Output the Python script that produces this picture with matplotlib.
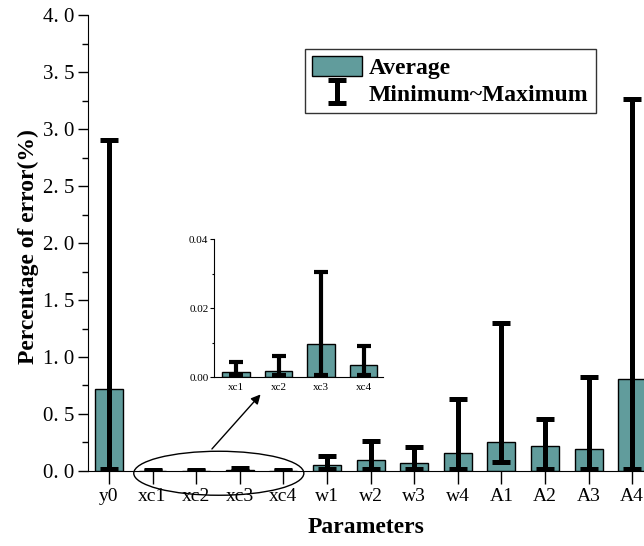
import numpy as np
import matplotlib.pyplot as plt
from matplotlib.patches import Ellipse

# values (percentage of error)
params = ['y0', 'xc1', 'xc2', 'xc3', 'xc4', 'w1', 'w2', 'w3', 'w4', 'A1', 'A2', 'A3', 'A4']
avg = [0.72, 0.0015, 0.0017, 0.0096, 0.0036, 0.05, 0.094, 0.07, 0.16, 0.25, 0.215, 0.195, 0.805]
vmin = [0.02, 0.0007, 0.0007, 0.0007, 0.0007, 0.02, 0.02, 0.02, 0.02, 0.08, 0.02, 0.02, 0.02]
vmax = [2.9, 0.0044, 0.0062, 0.0303, 0.0091, 0.13, 0.265, 0.21, 0.63, 1.295, 0.455, 0.826, 3.26]

inset_idx = [1, 2, 3, 4]

bar_color = '#619c9c'
serif = 'Liberation Serif'

fig = plt.figure(figsize=(6.44, 5.46), dpi=100)
ax = fig.add_axes([0.1366, 0.1374, 0.8634, 0.835])

x = np.arange(len(params))
avg_a = np.array(avg)
lo = avg_a - np.array(vmin)
hi = np.array(vmax) - avg_a

ax.bar(x, avg, width=0.64, color=bar_color, edgecolor='black', linewidth=1.0,
       label='Average', zorder=2)
eb = ax.errorbar(x, avg, yerr=[lo, hi], fmt='none', ecolor='black', elinewidth=3.6,
                 capsize=6.2, capthick=3.6, label='Minimum~Maximum', zorder=3)

ax.set_xlim(-0.48, 12.27)
ax.set_ylim(0, 4.0)
ax.set_xticks(x)
ax.set_xticklabels(params, fontfamily=serif, fontsize=14)
yt = np.arange(0, 4.01, 0.5)
ax.set_yticks(yt)
ax.set_yticklabels([f'{v:.1f}'.replace('.', '. ') for v in yt], fontfamily=serif, fontsize=15)
ax.set_yticks(np.arange(0, 4.01, 0.25), minor=True)
ax.tick_params(axis='x', direction='out', length=9, width=1, pad=3)
ax.tick_params(axis='y', which='major', direction='out', length=7, width=1, pad=3)
ax.tick_params(axis='y', which='minor', direction='out', length=4, width=1)
ax.spines['top'].set_visible(False)
ax.spines['right'].set_visible(False)

ax.set_xlabel('Parameters', fontfamily=serif, fontweight='bold', fontsize=17)
ax.xaxis.set_label_coords((366 - 88) / 556, -(517 - 471) / 456)
ax.set_ylabel('Percentage of error(%)', fontfamily=serif, fontweight='bold', fontsize=17)
ax.yaxis.set_label_coords(-(88 - 39) / 556, (471 - 247) / 456)

leg = ax.legend(loc='upper left', bbox_to_anchor=(0.474, 0.91), bbox_transform=fig.transFigure,
                borderaxespad=0, fancybox=False, framealpha=1, edgecolor='#333333',
                prop={'family': serif, 'weight': 'bold', 'size': 17},
                handlelength=2.1, handleheight=0.9, handletextpad=0.3, labelspacing=0.15,
                borderpad=0.3)
leg.get_frame().set_linewidth(1.0)

# ellipse + arrow pointing to the zoomed inset
ax.add_patch(Ellipse((2.52, -0.02), 3.9, 0.386, fill=False, edgecolor='black',
                     linewidth=1.0, clip_on=False, zorder=4))
ax.annotate('', xy=(3.52, 0.69), xytext=(2.32, 0.175),
            arrowprops=dict(arrowstyle='-|>', color='black', lw=1.0, mutation_scale=14))

# inset with the xc parameters
ins = fig.add_axes([0.3323, 0.3095, 0.262, 0.2527])
xi = np.arange(len(inset_idx))
ins_avg = [avg[i] for i in inset_idx]
ins_lo = [avg[i] - vmin[i] for i in inset_idx]
ins_hi = [vmax[i] - avg[i] for i in inset_idx]
ins.bar(xi, ins_avg, width=0.65, color=bar_color, edgecolor='black', linewidth=1.0, zorder=2)
ins.errorbar(xi, ins_avg, yerr=[ins_lo, ins_hi], fmt='none', ecolor='black', elinewidth=3.0,
             capsize=5, capthick=3.0, zorder=3)
ins.set_xlim(-0.52, 3.45)
ins.set_ylim(0, 0.04)
ins.set_xticks(xi)
ins.set_xticklabels([params[i] for i in inset_idx], fontfamily=serif, fontsize=8)
ins.set_yticks([0, 0.02, 0.04])
ins.set_yticklabels(['0.00', '0.02', '0.04'], fontfamily=serif, fontsize=8)
ins.set_yticks([0.01, 0.03], minor=True)
ins.tick_params(axis='x', length=0, pad=4)
ins.tick_params(axis='y', which='major', length=3, width=0.8, pad=1)
ins.tick_params(axis='y', which='minor', length=1.5, width=0.8)
ins.spines['top'].set_visible(False)
ins.spines['right'].set_visible(False)
ins.patch.set_alpha(0)

fig.savefig('out.png', dpi=100)
